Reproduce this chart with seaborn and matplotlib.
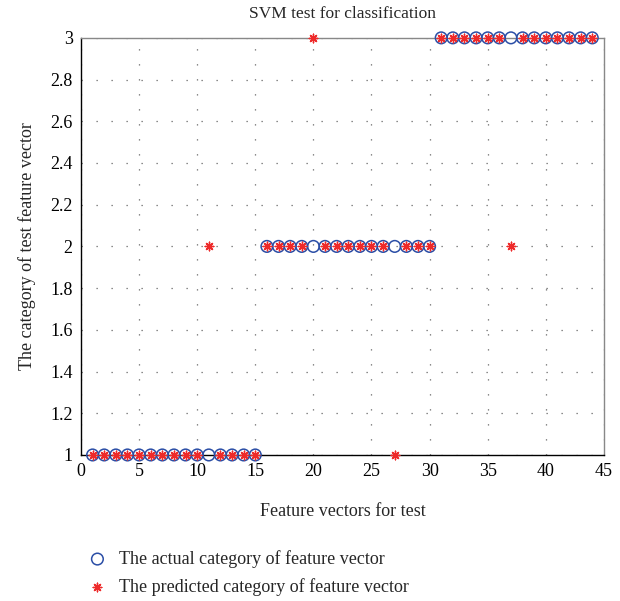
import numpy as np
import pandas as pd
import matplotlib
matplotlib.use("Agg")
import matplotlib.pyplot as plt
import seaborn as sns

# Data
feature_index = list(range(1, 45))
actual_category = [1]*15 + [2]*15 + [3]*14
predicted_category = [1]*10 + [2] + [1]*4 + [2]*4 + [3] + [2]*6 + [1] + [2]*3 + [3]*6 + [2] + [3]*7

x_ticks = [0, 5, 10, 15, 20, 25, 30, 35, 40, 45]
y_ticks = [1, 1.2, 1.4, 1.6, 1.8, 2, 2.2, 2.4, 2.6, 2.8, 3]
y_tick_labels = ["1", "1.2", "1.4", "1.6", "1.8", "2", "2.2", "2.4", "2.6", "2.8", "3"]

df = pd.DataFrame({"idx": feature_index, "actual": actual_category, "pred": predicted_category})

sns.set_style("white")
plt.rcParams['font.family'] = ['Liberation Serif', 'DejaVu Serif']

fig = plt.figure(figsize=(6.2, 6.01), dpi=100)
ax = fig.add_axes([0.1306, 0.243, 0.8434, 0.694])

sns.scatterplot(data=df, x="idx", y="actual", ax=ax, marker="o", s=70,
                facecolors="none", edgecolor="#2b4ea6", linewidth=1.1,
                label="The actual category of feature vector", zorder=3, clip_on=False)
sns.scatterplot(data=df, x="idx", y="pred", ax=ax, marker=(8, 2, 0), s=38,
                color="#ee2a2a", linewidth=1.0,
                label="The predicted category of feature vector", zorder=4, clip_on=False)

ax.set_xlim(0, 45)
ax.set_ylim(1, 3)
ax.set_xticks(x_ticks)
ax.set_yticks(y_ticks)
ax.set_yticklabels(y_tick_labels)
ax.tick_params(axis="both", direction="in", length=4, labelsize=13, colors="black", pad=6)
ax.grid(True, color="#666666", linestyle=(0, (1, 11)), linewidth=0.9)

for side in ["left", "bottom"]:
    ax.spines[side].set_color("black")
    ax.spines[side].set_linewidth(1.0)
for side in ["top", "right"]:
    ax.spines[side].set_color("#888888")
    ax.spines[side].set_linewidth(1.0)

ax.set_title("SVM test for classification", fontsize=12.5, pad=14)
ax.set_xlabel("Feature vectors for test", fontsize=13, labelpad=16)
ax.set_ylabel("The category of test feature vector", fontsize=13, labelpad=10)

leg = ax.legend(loc="upper left", bbox_to_anchor=(0.128, 0.097), bbox_transform=fig.transFigure,
                frameon=False, fontsize=13, handletextpad=0.6, labelspacing=0.55,
                borderaxespad=0, handlelength=1.2)
leg.legend_handles[0].set_facecolor("none")

fig.savefig("out.png", dpi=100)
